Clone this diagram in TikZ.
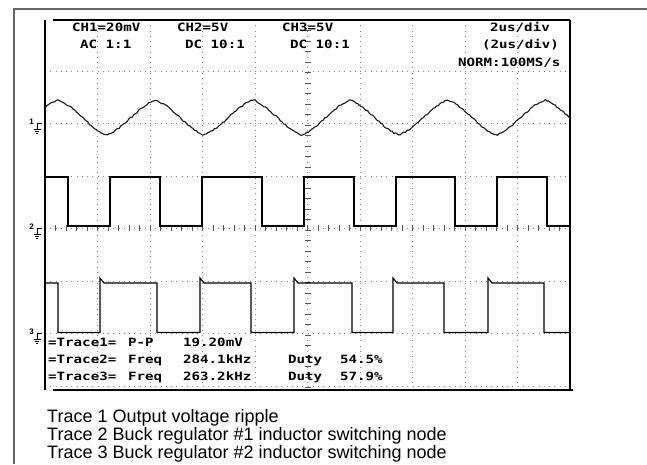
\documentclass[tikz,border=0pt]{standalone}
\usepackage{fontspec}
\setmainfont{Liberation Sans}
\newfontfamily\scopefont[FakeStretch=1.24]{DejaVu Sans Mono}
\tikzset{
  scopetext/.style={font=\fontsize{11.4}{12}\scopefont\bfseries, anchor=base west, inner sep=0pt},
  gridline/.style={gray, line width=0.9pt, dash pattern=on 0.9pt off 4.35pt},
  trace/.style={black, line width=1.1pt, line join=miter},
  caption/.style={font=\fontsize{18}{18}\selectfont, anchor=base west, inner sep=0pt}
}
\begin{document}
\begin{tikzpicture}[x=1pt,y=-1pt]
    \useasboundingbox (0,0) rectangle (647,464);
    % outer frame
    \draw[gray!80!black, line width=2pt] (14,464) -- (14,9) -- (647,9);
    % graticule
    \foreach \gx in {97.5,150,202.5,255,360,412.5,465,517.5}
      \draw[gridline] (\gx,20) -- (\gx,387);
    \foreach \gy in {71,123,176,281,333,386}
      \draw[gridline] (45,\gy) -- (570,\gy);
    \draw[gridline] (45,228) -- (570,228);
    \draw[gridline] (307.5,20) -- (307.5,387);
    \foreach \t in {0,...,50}
      \draw[gray!70!black, line width=0.7pt] (45+10.5*\t,225) -- (45+10.5*\t,231);
    \foreach \t in {0,...,35}
      \draw[gray!70!black, line width=0.7pt] (304.5,20+10.5*\t) -- (310.5,20+10.5*\t);
    % screen border
    \draw[line width=1.2pt] (45,20) -- (45,390);
    \draw[line width=1.2pt] (570,20) -- (570,390);
    \draw[line width=2pt] (53,20) -- (570,20);
    \draw[line width=2pt] (53,390) -- (573,390);
    % ground markers
    \foreach \n/\y in {1/123,2/228,3/333} {
      \node[font=\fontsize{8}{8}\selectfont\bfseries, inner sep=0pt] (gnd\n) at (31.5,\y-1) {\n};
      \draw[line width=0.8pt] (42,\y) -- (37,\y) -- (37,\y+6);
      \draw[line width=0.8pt] (33.5,\y+6) -- (40.5,\y+6);
      \draw[line width=0.8pt] (35,\y+8) -- (39,\y+8);
      \draw[line width=0.8pt] (36.3,\y+10) -- (37.7,\y+10);
    }
    % trace 1: output ripple
    \draw[trace, gray!20!black] plot[domain=45:570, samples=320]
      (\x, {117.5-17.5*(0.5*cos(3.6961*(\x-58))+0.5*asin(0.9999*cos(3.6961*(\x-58)))/90)+0.8*rand});
    % trace 2: switching node 1
    \draw[trace] (45,177) -- (68,177) -- (68,226) -- (110,226) -- (110,177) -- (160,177)
      -- (160,226) -- (202,226) -- (202,177) -- (262,177) -- (262,226) -- (304,226)
      -- (304,177) -- (354,177) -- (354,226) -- (396,226) -- (396,177) -- (455,177)
      -- (455,226) -- (497,226) -- (497,177) -- (547,177) -- (547,226) -- (570,226);
    % trace 3: switching node 2
    \draw[trace] (45,283) -- (58,283) -- (58,332.5) -- (100,332.5) -- (100,278) -- (104,283)
      -- (157,283) -- (157,332.5) -- (200,332.5) -- (200,278) -- (204,283) -- (251,283)
      -- (251,332.5) -- (294,332.5) -- (294,278) -- (298,283) -- (352,283) -- (352,332.5)
      -- (393,332.5) -- (393,278) -- (397,283) -- (444,283) -- (444,332.5) -- (488,332.5)
      -- (488,278) -- (492,283) -- (544,283) -- (544,332.5) -- (570,332.5);
    % header
    \node[scopetext] (ch1) at (72,31) {CH1=20mV};
    \node[scopetext] (cpl1) at (80,48) {AC 1:1};
    \node[scopetext] (ch2) at (177,31) {CH2=5V};
    \node[scopetext] (cpl2) at (185,48) {DC 10:1};
    \node[scopetext] (ch3) at (282,31) {CH3=5V};
    \node[scopetext] (cpl3) at (290,48) {DC 10:1};
    \node[scopetext] (tdiv) at (490,31) {2us/div};
    \node[scopetext] (tdiv2) at (482,48) {(2us/div)};
    \node[scopetext] (mode) at (458,66) {NORM:100MS/s};
    % measurements
    \node[scopetext] (tr1) at (48,346) {=Trace1=};
    \node[scopetext] (pp) at (128,346) {P-P};
    \node[scopetext] (ppval) at (183,346) {19.20mV};
    \node[scopetext] (tr2) at (48,363) {=Trace2=};
    \node[scopetext] (fq2) at (128,363) {Freq};
    \node[scopetext] (fqval2) at (183,363) {284.1kHz};
    \node[scopetext] (dt2) at (288,363) {Duty};
    \node[scopetext] (dtval2) at (340,363) {54.5\%};
    \node[scopetext] (tr3) at (48,380) {=Trace3=};
    \node[scopetext] (fq3) at (128,380) {Freq};
    \node[scopetext] (fqval3) at (183,380) {263.2kHz};
    \node[scopetext] (dt3) at (288,380) {Duty};
    \node[scopetext] (dtval3) at (340,380) {57.9\%};
    % caption
    \node[caption] (cap1) at (47,422.5) {Trace 1 Output voltage ripple};
    \node[caption] (cap2) at (47,440.5) {Trace 2 Buck regulator \#1 inductor switching node};
    \node[caption] (cap3) at (47,458.5) {Trace 3 Buck regulator \#2 inductor switching node};
\end{tikzpicture}
\end{document}
